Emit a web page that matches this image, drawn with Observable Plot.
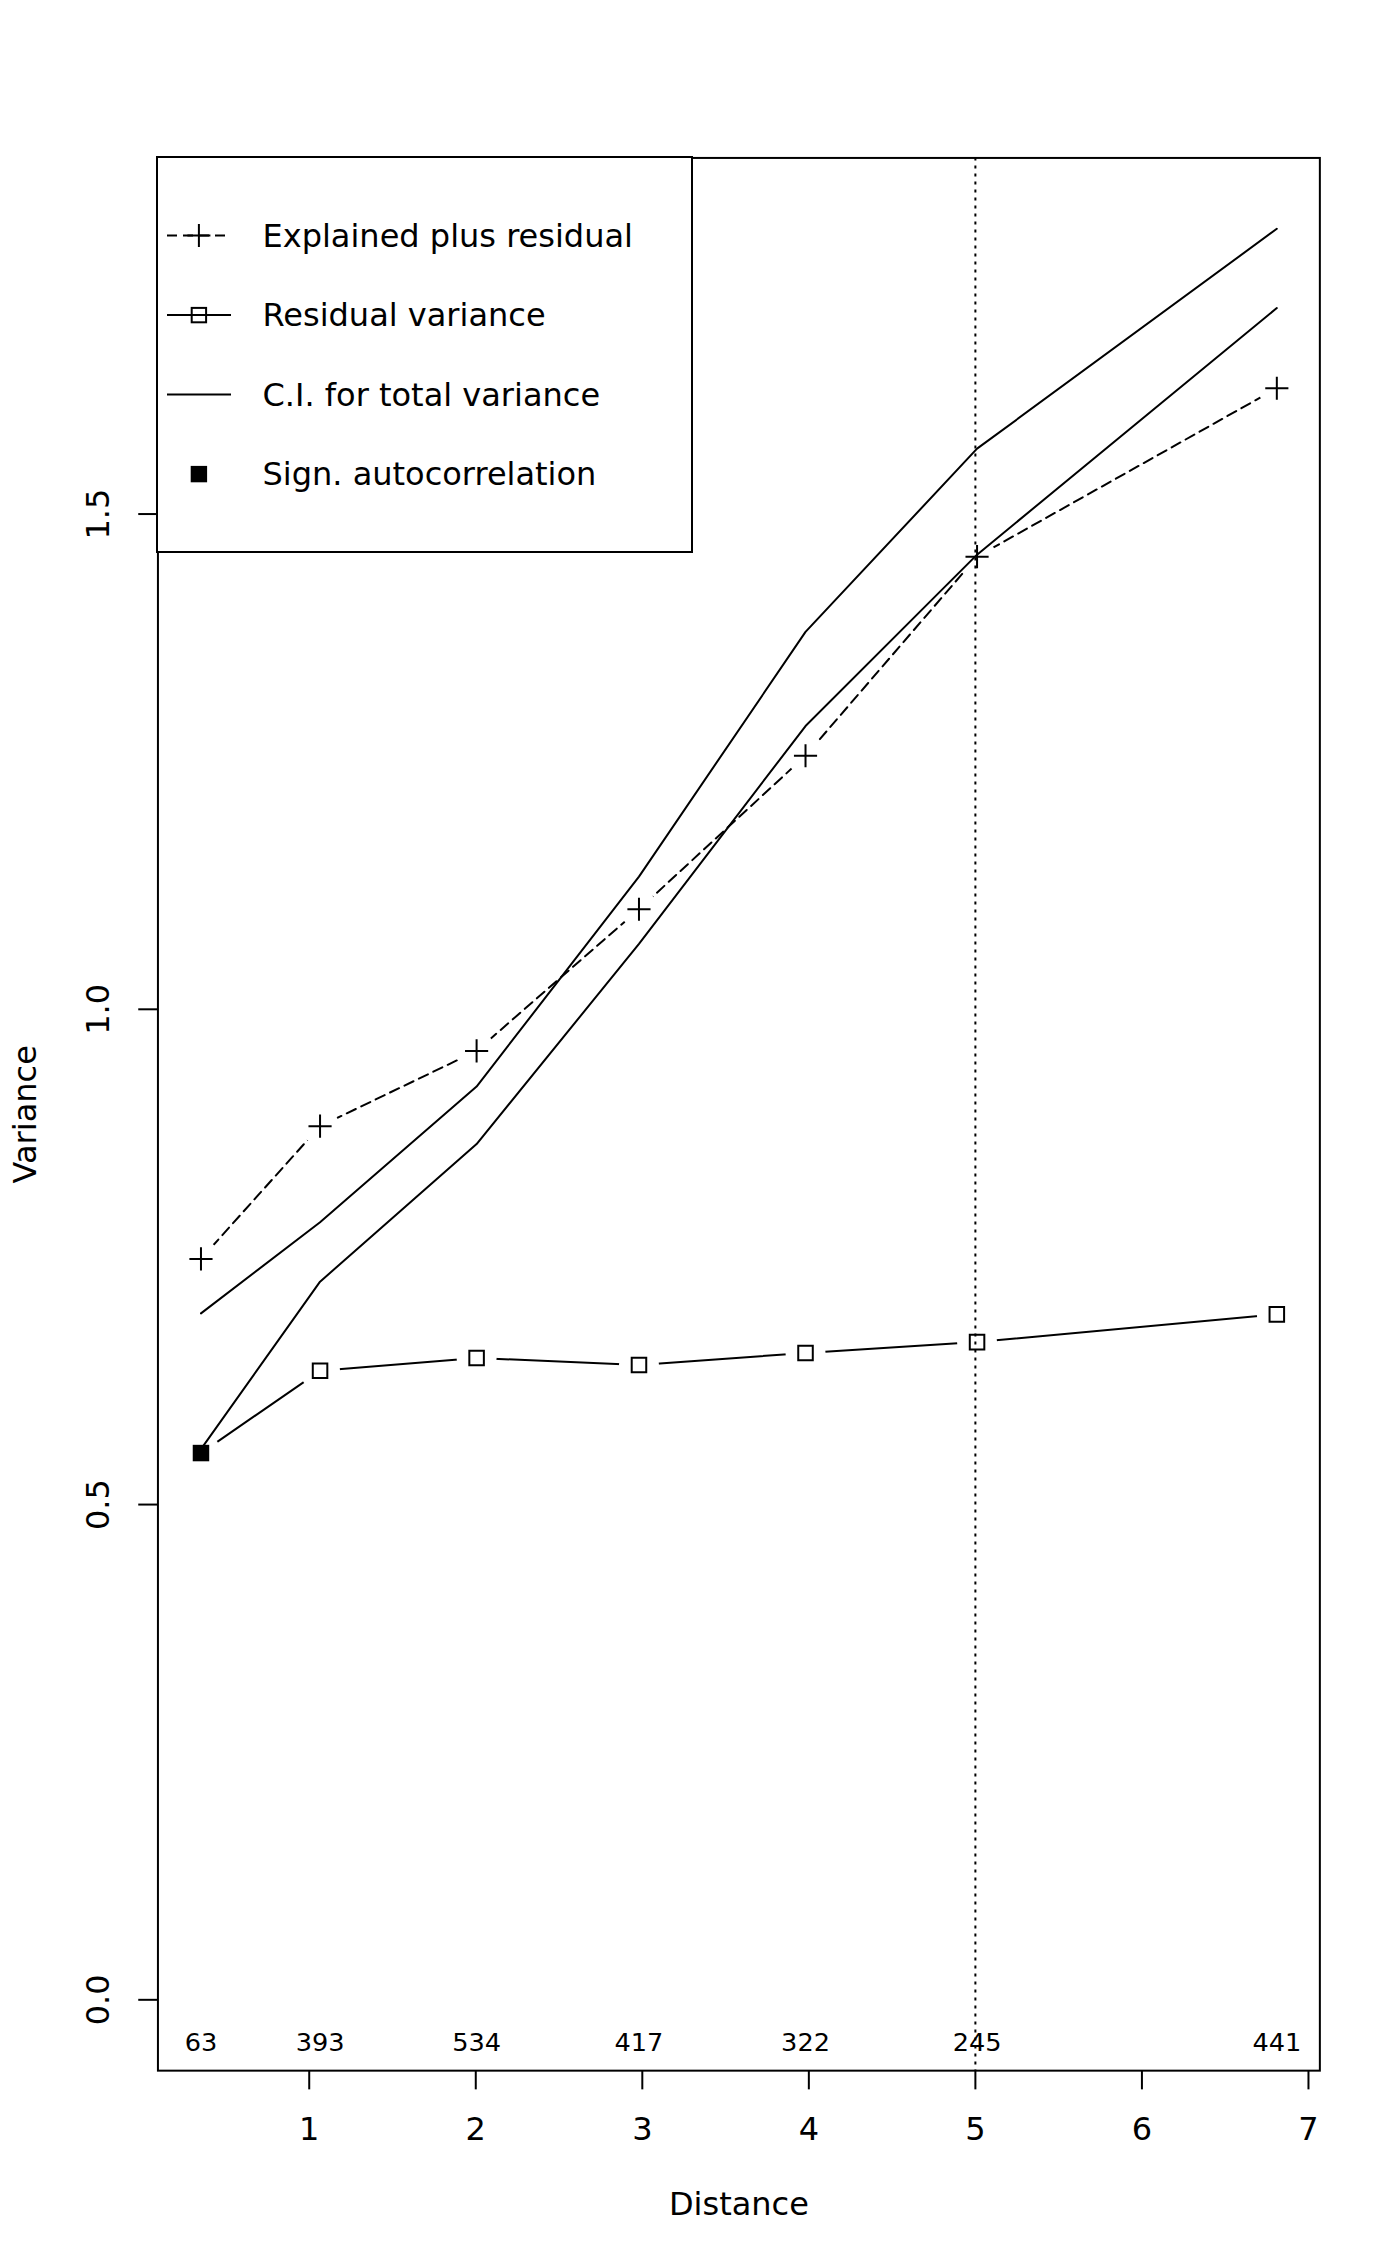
<!DOCTYPE html>
<html>
<head>
<meta charset="utf-8">
<script src="https://cdn.jsdelivr.net/npm/d3@7"></script>
<script src="https://cdn.jsdelivr.net/npm/@observablehq/plot@0.6"></script>
<style>
  html, body { margin: 0; padding: 0; background: #fff; }
  #wrap { position: relative; width: 1400px; height: 2266px; background: #fff; }
  #wrap svg { display: block; }
</style>
</head>
<body>
<div id="wrap"></div>
<script>
// ---- data ----
const distance = [0.35, 1.065, 2.005, 2.98, 3.98, 5.01, 6.81];
const explainedPlusResidual = [0.748, 0.882, 0.958, 1.101, 1.256, 1.457, 1.627];
const residualVariance = [0.552, 0.635, 0.648, 0.641, 0.653, 0.664, 0.692];
const ciUpper = [0.693, 0.785, 0.922, 1.134, 1.381, 1.566, 1.788];
const ciLower = [0.556, 0.725, 0.864, 1.066, 1.286, 1.459, 1.708];
const pairCounts = [63, 393, 534, 417, 322, 245, 441];
const significant = [true, false, false, false, false, false, false];
const cutoffDistance = [5];
const xTicks = [1, 2, 3, 4, 5, 6, 7];
const yTicks = [0, 0.5, 1.0, 1.5];
const xLabel = "Distance";
const yLabel = "Variance";
const legendLabels = ["Explained plus residual", "Residual variance", "C.I. for total variance", "Sign. autocorrelation"];

// ---- layout (R-like margins, line height 38.4px) ----
const W = 1400, H = 2266, LH = 38.4;
const mL = 4.1 * LH, mT = 4.1 * LH, mR = 2.1 * LH, mB = 5.1 * LH;
const FONT = "DejaVu Sans";

const rows = distance.map((d, i) => ({
  x: d, exp: explainedPlusResidual[i], res: residualVariance[i],
  up: ciUpper[i], lo: ciLower[i], n: pairCounts[i], sig: significant[i]
}));

const xr = d3.extent(distance);
const xpad = (xr[1] - xr[0]) * 0.04;
const ylo = 0, yhi = d3.max(ciUpper);
const ypad = (yhi - ylo) * 0.04;

const chart = Plot.plot({
  width: W, height: H,
  marginLeft: mL, marginRight: mR, marginTop: mT, marginBottom: mB,
  style: { fontFamily: FONT, fontSize: "32px", background: "white", color: "black" },
  x: { domain: [xr[0] - xpad, xr[1] + xpad] },
  y: { domain: [ylo - ypad, yhi + ypad] },
  marks: [
    // residual variance line, with gaps round the points (type "b")
    Plot.line(rows, { x: "x", y: "res", stroke: "black", strokeWidth: 2 }),
    Plot.dot(rows, { x: "x", y: "res", r: 20, fill: "white" }),
    // explained plus residual, dashed with gaps
    Plot.line(rows, { x: "x", y: "exp", stroke: "black", strokeWidth: 2, strokeDasharray: "10,6" }),
    Plot.dot(rows, { x: "x", y: "exp", r: 19, fill: "white" }),
    // confidence interval
    Plot.line(rows, { x: "x", y: "up", stroke: "black", strokeWidth: 2 }),
    Plot.line(rows, { x: "x", y: "lo", stroke: "black", strokeWidth: 2 }),
    // cutoff
    Plot.ruleX(cutoffDistance, { stroke: "black", strokeWidth: 2, strokeDasharray: "3,5" }),
    // symbols
    Plot.dot(rows, { x: "x", y: "exp", symbol: "plus", r: 7.5, stroke: "black", strokeWidth: 2 }),
    Plot.dot(rows.filter(d => !d.sig), { x: "x", y: "res", symbol: "square", r: 8.2, stroke: "black", strokeWidth: 2, fill: "none" }),
    Plot.dot(rows.filter(d => d.sig), { x: "x", y: "res", symbol: "square", r: 9.3, fill: "black", stroke: "none" }),
    // pair counts
    Plot.text(rows, { x: "x", frameAnchor: "bottom", dy: -28, text: d => String(d.n), fontSize: 25.6, fill: "black", textAnchor: "middle", lineAnchor: "middle" }),
    // frame & axes
    Plot.frame({ stroke: "black", strokeWidth: 2 }),
    Plot.axisX({ ticks: xTicks, tickSize: 19.2, tickPadding: 27, label: null, fontSize: 32, strokeWidth: 2, tickFormat: d => String(d) }),
    Plot.axisY({ ticks: yTicks, tickSize: 19.2, text: null, label: null, strokeWidth: 2 }),
    Plot.text(yTicks, { y: d => d, frameAnchor: "left", dx: -59.4, rotate: -90, text: d => d.toFixed(1), fontSize: 32, fill: "black", textAnchor: "middle", lineAnchor: "middle" }),
    Plot.text([xLabel], { frameAnchor: "bottom", dy: 133.8, text: d => d, fontSize: 32, fill: "black", textAnchor: "middle", lineAnchor: "middle" }),
    Plot.text([yLabel], { frameAnchor: "left", dx: 25 - mL, rotate: -90, text: d => d, fontSize: 32, fill: "black", textAnchor: "middle", lineAnchor: "middle" })
  ]
});

const wrap = document.getElementById("wrap");
wrap.appendChild(chart);

// ---- legend (overlay inside the plot box, top-left) ----
const legW = 535, legH = 395, rowY0 = 78.6, rowStep = 79.5;
const symX = 41.9, segX1 = 10, segX2 = 74, textX = 105.5;
const leg = d3.select(wrap).append("svg")
  .attr("width", legW + 2).attr("height", legH + 2)
  .style("position", "absolute").style("left", (mL - 1) + "px").style("top", (mT - 1) + "px")
  .append("g").attr("transform", "translate(1,1)");
leg.append("rect").attr("x", 0).attr("y", 0).attr("width", legW).attr("height", legH)
  .attr("fill", "white").attr("stroke", "black").attr("stroke-width", 2);

const kinds = [
  { line: "10,6", symbol: "plus" },
  { line: "none", symbol: "square" },
  { line: "none", symbol: null },
  { line: null, symbol: "filled" }
];
legendLabels.forEach((lab, i) => {
  const y = rowY0 + i * rowStep;
  const k = kinds[i];
  const g = leg.append("g");
  if (k.line !== null) {
    const ln = g.append("line").attr("x1", segX1).attr("x2", segX2).attr("y1", y).attr("y2", y)
      .attr("stroke", "black").attr("stroke-width", 2);
    if (k.line !== "none") ln.attr("stroke-dasharray", k.line);
  }
  if (k.symbol === "plus") {
    g.append("path").attr("d", `M${symX - 11.5},${y}H${symX + 11.5}M${symX},${y - 11.5}V${y + 11.5}`)
      .attr("stroke", "black").attr("stroke-width", 2).attr("fill", "none");
  } else if (k.symbol === "square") {
    g.append("rect").attr("x", symX - 7.2).attr("y", y - 7.2).attr("width", 14.4).attr("height", 14.4)
      .attr("stroke", "black").attr("stroke-width", 2).attr("fill", "none");
  } else if (k.symbol === "filled") {
    g.append("rect").attr("x", symX - 8.2).attr("y", y - 8.2).attr("width", 16.4).attr("height", 16.4)
      .attr("fill", "black");
  }
  g.append("text").attr("x", textX).attr("y", y).attr("dy", "0.35em")
    .attr("font-family", FONT).attr("font-size", 32).attr("fill", "black").text(lab);
});
</script>
</body>
</html>
